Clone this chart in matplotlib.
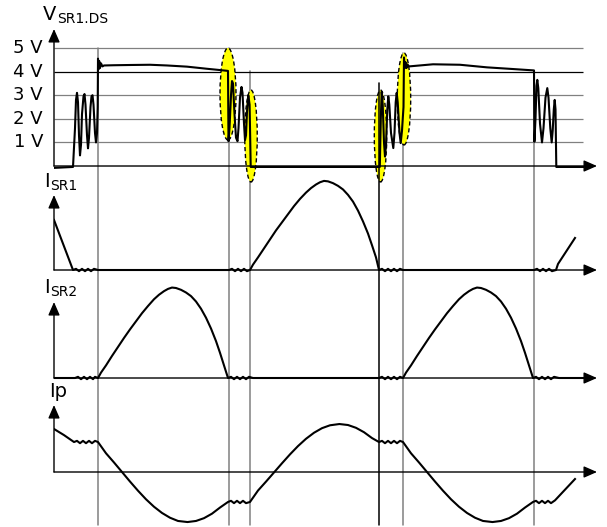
import matplotlib
matplotlib.use("Agg")
import matplotlib.pyplot as plt
from matplotlib.patches import Ellipse, ConnectionPatch

# time runs in arbitrary units, 0 = vertical axis
switch_t = [44, 175, 196, 325, 349, 480]
switch_top = [5.0, 5.0, 4.03, 3.52, 4.79, 4.03]      # where each marker starts (V scale)
switch_col = ["#808080", "#808080", "#808080", "black", "#808080", "#808080"]

grid_v = [5, 4, 3, 2, 1]
grid_col = ["#808080", "black", "#808080", "#808080", "#808080"]
tick_labels = ["5 V", "4 V", "3 V", "2 V", "1 V"]

# V_SR1.DS in volts
vds_t = [0, 19, 21, 22, 23, 24, 25, 26, 27, 28, 29.5, 30.5, 31.5, 33, 34, 35, 36.5, 37.5, 38.5, 39.5,
         41, 42, 43, 43.7, 44, 44.6, 45.2, 46, 47, 48.5,
         50, 60, 76, 96, 113, 133, 153, 165, 174,
         174.5, 175.5, 177, 178, 179, 180.5, 182, 183.5, 184.5, 186, 187.5, 188.5, 190, 191, 192, 193,
         194.3, 195.6, 196.7, 325.8,
         326.8, 327.7, 328.7, 330, 331, 332, 333.3, 334.3, 335.3, 337, 339.3, 340.5, 341.7, 342.7, 343.7,
         345.5, 346.7, 348, 349.5, 350, 350.7, 351.5, 352.5, 353.5, 355,
         379, 406, 433, 455, 480,
         480.4, 481.5, 482.5, 483.3, 484.3, 486, 488, 489.5, 491.5, 493.3, 494.5, 496.3, 497.7, 498.7,
         499.8, 500.7, 501.5, 502.3, 529]
vds_v = [-0.08, -0.04, 1.6, 2.8, 3.1, 2.7, 1.3, 0.45, 0.9, 2.2, 2.95, 3.05, 2.6, 1.3, 0.75, 1.2, 2.5, 2.95, 3.0, 2.6,
         1.4, 1.0, 1.4, 2.5, 4.55, 4.1, 4.45, 4.15, 4.35, 4.22,
         4.26, 4.27, 4.28, 4.29, 4.26, 4.21, 4.12, 4.07, 4.03,
         1.05, 1.6, 3.0, 3.6, 3.5, 2.2, 1.2, 1.05, 1.6, 2.9, 3.35, 3.1, 1.8, 1.1, 1.3, 2.3,
         3.0, 2.6, -0.04, -0.04,
         2.0, 3.15, 2.6, 1.0, 0.4, 0.9, 2.4, 2.95, 2.6, 1.4, 0.76, 1.4, 2.7, 3.1, 2.7,
         1.4, 0.97, 1.5, 2.5, 4.6, 4.15, 4.4, 4.15, 4.3, 4.22,
         4.31, 4.29, 4.18, 4.12, 4.05,
         1.03, 2.0, 3.4, 3.65, 3.3, 1.8, 1.0, 1.6, 2.9, 3.3, 2.9, 1.6, 1.0, 1.5,
         2.4, 2.8, 2.4, -0.04, -0.04]

# I_SR1 (normalised)
isr1_t = [0, 19, 22, 25, 28, 31, 34, 37, 40, 44,
          175, 178, 181, 184, 187, 190, 193,
          196, 199, 204, 210, 216, 222, 228, 234, 240, 246, 252, 257, 262, 266, 270,
          274, 279, 284, 289, 294, 299, 304, 309, 314, 318, 322, 325,
          328, 331, 334, 337, 340, 343, 346, 349,
          480, 483, 486, 489, 492, 495, 498, 502, 504, 521]
isr1 = [0.556, 0, .013, -.013, .013, -.013, .013, -.013, .013, 0,
        0, .013, -.013, .013, -.013, .013, -.013,
        0, 0.06, 0.14, 0.24, 0.34, 0.44, 0.53, 0.62, 0.71, 0.79, 0.86, 0.91, 0.95, 0.975, 0.99,
        0.985, 0.965, 0.935, 0.895, 0.835, 0.76, 0.66, 0.54, 0.405, 0.275, 0.14, 0,
        .013, -.013, .013, -.013, .013, -.013, .013, 0,
        0, .013, -.013, .013, -.013, .013, -.013, 0, 0.067, 0.356]

# I_SR2 (normalised)
isr2_t = [0, 21, 24, 27, 30, 33, 36, 39, 41,
          44, 47, 52, 58, 64, 70, 76, 82, 88, 94, 100, 105, 110, 114, 118,
          122, 127, 132, 137, 142, 147, 152, 157, 162, 166, 170, 174,
          177, 180, 183, 186, 189, 192, 195, 199,
          325, 328, 331, 334, 337, 340, 343, 346,
          349, 352, 357, 363, 369, 375, 381, 387, 393, 399, 405, 410, 415, 419, 423,
          427, 432, 437, 442, 447, 452, 457, 462, 467, 471, 475, 479,
          482, 485, 488, 491, 494, 497, 500, 505, 529]
isr2 = [0, 0, .013, -.013, .013, -.013, .013, -.013, .013,
        0, 0.06, 0.14, 0.245, 0.345, 0.445, 0.54, 0.63, 0.72, 0.80, 0.875, 0.925, 0.965, 0.99, 1.005,
        1.0, 0.98, 0.95, 0.91, 0.85, 0.77, 0.67, 0.55, 0.41, 0.28, 0.14, 0,
        .013, -.013, .013, -.013, .013, -.013, .013, 0,
        0, .013, -.013, .013, -.013, .013, -.013, .013,
        0, 0.06, 0.14, 0.245, 0.345, 0.445, 0.54, 0.63, 0.72, 0.80, 0.875, 0.925, 0.965, 0.99, 1.005,
        1.0, 0.98, 0.95, 0.91, 0.85, 0.77, 0.67, 0.55, 0.41, 0.28, 0.14, 0,
        .013, -.013, .013, -.013, .013, -.013, .013, 0, 0]

# Ip (normalised)
ip_t = [0, 10, 20, 23, 26, 29, 32, 35, 38, 41, 44,
        52, 60, 68, 76, 84, 92, 100, 108, 116, 124, 133.5, 142, 150, 158, 166, 174,
        177, 180, 183, 186, 189, 192, 196,
        204, 212, 220.4, 228, 236, 244, 252, 260, 268, 276, 285.4, 294, 302, 310, 318, 325,
        328, 331, 334, 337, 340, 343, 346, 349,
        357, 365, 373, 381, 389, 397, 405, 413, 421, 429, 438.5, 447, 455, 463, 471, 479,
        482, 485, 488, 491, 494, 497, 501, 521]
ip = [0.478, 0.41, 0.333, 0.346, 0.32, 0.346, 0.32, 0.346, 0.32, 0.346, 0.333,
      0.208, 0.106, 0, -0.106, -0.208, -0.303, -0.386, -0.455, -0.508, -0.544, -0.556, -0.544, -0.513, -0.463, -0.395, -0.333,
      -0.32, -0.346, -0.32, -0.346, -0.32, -0.346, -0.333,
      -0.206, -0.107, 0, 0.097, 0.196, 0.288, 0.369, 0.436, 0.487, 0.519, 0.533, 0.522, 0.491, 0.442, 0.377, 0.333,
      0.346, 0.32, 0.346, 0.32, 0.346, 0.32, 0.346, 0.333,
      0.208, 0.106, 0, -0.106, -0.208, -0.303, -0.386, -0.455, -0.508, -0.544, -0.556, -0.544, -0.513, -0.463, -0.395, -0.333,
      -0.32, -0.346, -0.32, -0.346, -0.32, -0.346, -0.315, -0.078]

# yellow highlights on the V_DS edges
mark_t = [174, 197, 326.5, 350]
mark_v = [3.05, 1.27, 1.27, 2.84]
mark_w = [16, 12.5, 12.4, 13.4]

W, H = 607, 527
fig = plt.figure(figsize=(W / 100, H / 100), dpi=100)


def panel(top_px, bot_px, ylim):
    ax = fig.add_axes([54 / W, 1 - bot_px / H, (W - 54) / W, (bot_px - top_px) / H])
    ax.set_xlim(0, 553)
    ax.set_ylim(*ylim)
    ax.axis("off")
    return ax


ax_v = panel(0, 175, (-0.381, 7.034))
ax_1 = panel(175, 283, (-0.1444, 1.0556))
ax_2 = panel(283, 390, (-0.1333, 1.0556))
ax_p = panel(390, 527, (-0.6111, 0.9111))

arrow = dict(arrowstyle="-|>,head_length=0.8,head_width=0.35", color="black", lw=1.0,
             shrinkA=0, shrinkB=0)


def axes_arrows(ax, ytop):
    ax.annotate("", xy=(543, 0), xytext=(0, 0), arrowprops=arrow, annotation_clip=False, zorder=4)
    ax.annotate("", xy=(0, ytop), xytext=(0, 0), arrowprops=arrow, annotation_clip=False, zorder=4)


def sub_label(ax, x, y, main, sub, main_w):
    # big letter plus a smaller, slightly lowered subscript
    ax.text(x, y, main, fontsize=14, ha="left", va="baseline")
    ax.annotate(sub, xy=(x, y), xytext=(main_w, -2), textcoords="offset points",
                fontsize=10, ha="left", va="baseline", annotation_clip=False)


# switching instants, drawn through all four panels
for t, top, col in zip(switch_t, switch_top, switch_col):
    con = ConnectionPatch(xyA=(t, top), coordsA=ax_v.transData,
                          xyB=(t, -0.589), coordsB=ax_p.transData,
                          color=col, lw=1.1, zorder=5 if col == "black" else -1)
    fig.add_artist(con)

# V_SR1.DS panel
ax_v.hlines(grid_v, 0, 529, colors=grid_col, lw=0.9, zorder=1)
for v, lab in zip(grid_v, tick_labels):
    ax_v.text(-11, v, lab, ha="right", va="center", fontsize=13)
for t, v, w in zip(mark_t, mark_v, mark_w):
    ax_v.add_patch(Ellipse((t, v), w, 3.9, facecolor="#ffff00", edgecolor="black",
                           lw=1.0, ls=(0, (3, 2)), clip_on=False, zorder=2))
ax_v.plot(vds_t, vds_v, color="black", lw=1.5, zorder=3)
axes_arrows(ax_v, 5.805)
sub_label(ax_v, -11, 6.19, "V", "SR1.DS", 10)

# I_SR1 panel
ax_1.plot(isr1_t, isr1, color="black", lw=1.5, zorder=3)
axes_arrows(ax_1, 0.833)
sub_label(ax_1, -10, 0.922, "I", "SR1", 4.6)

# I_SR2 panel
ax_2.plot(isr2_t, isr2, color="black", lw=1.5, zorder=3)
axes_arrows(ax_2, 0.844)
sub_label(ax_2, -10, 0.941, "I", "SR2", 4.6)

# Ip panel
ax_p.plot(ip_t, ip, color="black", lw=1.5, zorder=3)
axes_arrows(ax_p, 0.744)
ax_p.text(-4.5, 0.833, "Ip", fontsize=14, ha="left", va="baseline")

fig.savefig("out.png", dpi=100)
